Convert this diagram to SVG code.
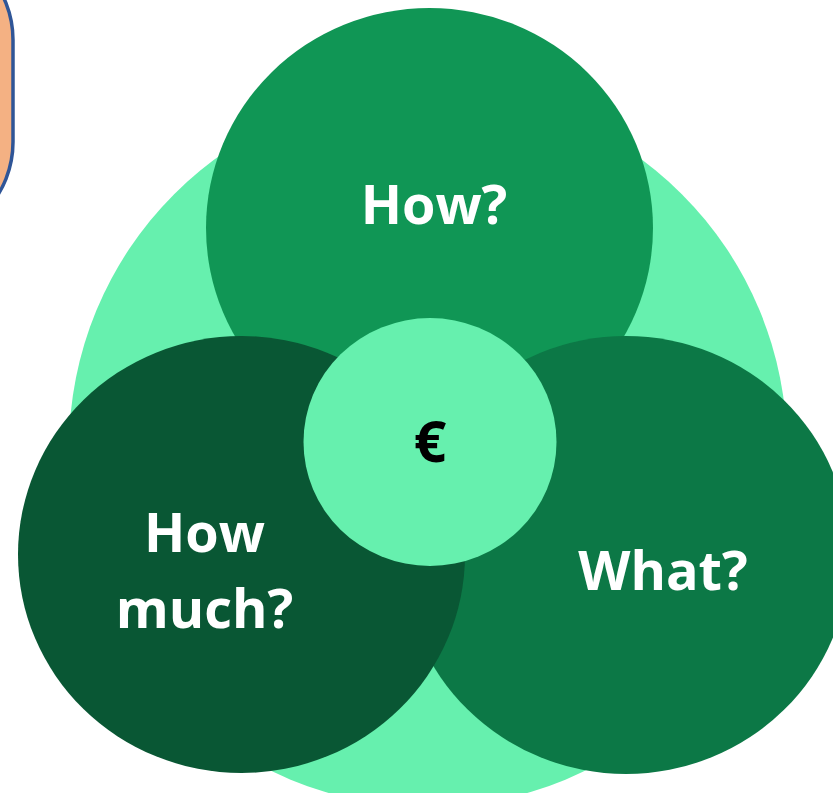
<svg xmlns="http://www.w3.org/2000/svg" width="833" height="793" viewBox="0 0 833 793">
<style>
.lbl{font-family:"Open Sans","Liberation Sans",sans-serif;font-weight:700;font-size:54px;text-anchor:middle;fill:#FFFFFF}
.eur{fill:#000000;font-size:57px}
</style>
<rect width="833" height="793" fill="#FFFFFF"/>
<g id="note">
<rect x="-200" y="-60" width="213" height="302" rx="100" ry="100" fill="#F4B183" stroke="#2F5597" stroke-width="3.5"/>
</g>
<g id="background">
<ellipse cx="428" cy="448" rx="359" ry="359" fill="#66F0AE"/>
</g>
<g id="how">
<ellipse cx="429.5" cy="228" rx="223.5" ry="220" fill="#109655"/>
<text class="lbl" x="434" y="224">How?</text>
</g>
<g id="what">
<ellipse cx="626" cy="555" rx="223.5" ry="219" fill="#0C7846"/>
<text class="lbl" x="663" y="590">What?</text>
</g>
<g id="howmuch">
<ellipse cx="241.5" cy="554.5" rx="223.5" ry="218.5" fill="#095734"/>
<text class="lbl" x="204.5" y="552">How</text>
<text class="lbl" x="204.5" y="628">much?</text>
</g>
<g id="euro">
<ellipse cx="430" cy="442" rx="126.5" ry="124" fill="#66F0AE"/>
<text class="lbl eur" x="430" y="462">€</text>
</g>
<g id="connectors"></g>
</svg>
